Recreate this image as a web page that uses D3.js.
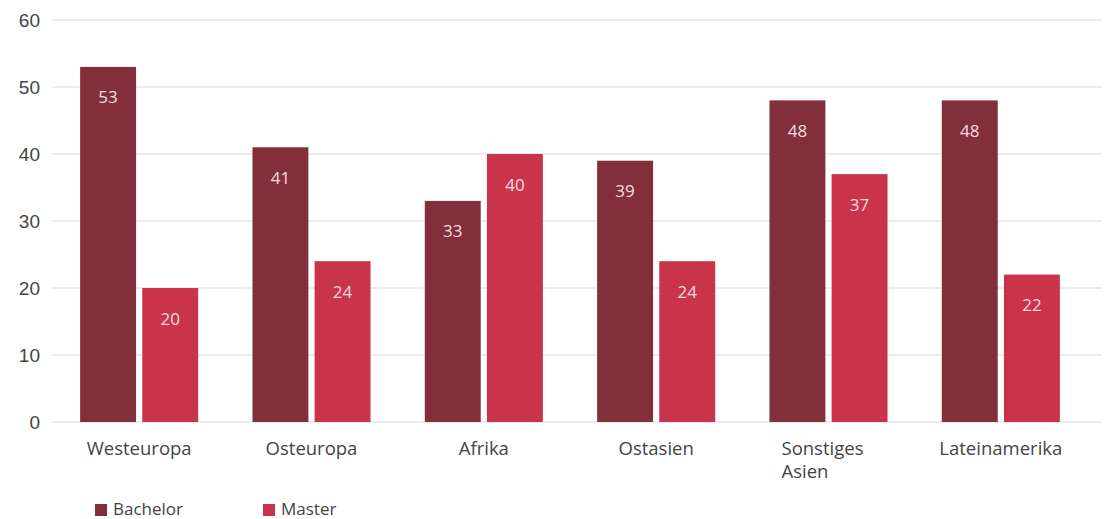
<!DOCTYPE html>
<html>
<head>
<meta charset="utf-8">
<script src="https://cdn.jsdelivr.net/npm/d3@7"></script>
<style>
  html, body { margin: 0; padding: 0; background: #fff; }
  svg { display: block; font-family: "Open Sans", "Noto Sans", sans-serif; }
</style>
</head>
<body>
<svg id="chart" width="1106" height="519"></svg>
<script>
const categories = ["Westeuropa", "Osteuropa", "Afrika", "Ostasien", "Sonstiges Asien", "Lateinamerika"];
const categoryLines = [["Westeuropa"], ["Osteuropa"], ["Afrika"], ["Ostasien"], ["Sonstiges", "Asien"], ["Lateinamerika"]];
const seriesNames = ["Bachelor", "Master"];
const bachelor = [53, 41, 33, 39, 48, 48];
const master = [20, 24, 40, 24, 37, 22];
const yTicks = [0, 10, 20, 30, 40, 50, 60];
const colors = ["#832e3b", "#c9344b"];

const svg = d3.select("#chart");
const x0 = d3.scaleBand().domain(categories).range([53, 1087]).paddingInner(0.315).paddingOuter(0.1575);
const x1 = d3.scaleBand().domain(seriesNames).range([0, x0.bandwidth()]).paddingInner(0.1).paddingOuter(0);
const y = d3.scaleLinear().domain([0, 60]).range([422, 20]);

// y axis labels
const yAxis = d3.axisLeft(y).tickValues(yTicks).tickSize(0).tickPadding(0);
const gy = svg.append("g").attr("transform", "translate(40,0)").call(yAxis);
gy.select(".domain").remove();
gy.selectAll("text").attr("font-size", 19).attr("fill", "#444").attr("x", 0).attr("dy", "0.32em");

// gridlines
svg.append("g").selectAll("line").data(yTicks).join("line")
  .attr("x1", 52).attr("x2", 1102)
  .attr("y1", d => y(d)).attr("y2", d => y(d))
  .attr("stroke", "#e6e6e6").attr("stroke-width", 1.5);

const data = categories.map((c, i) => ({ cat: c, vals: [
  { s: "Bachelor", v: bachelor[i], c: colors[0] },
  { s: "Master", v: master[i], c: colors[1] }
]}));

const groups = svg.append("g").selectAll("g").data(data).join("g")
  .attr("transform", d => `translate(${x0(d.cat)},0)`);

groups.selectAll("rect").data(d => d.vals).join("rect")
  .attr("x", d => x1(d.s))
  .attr("width", x1.bandwidth())
  .attr("y", d => y(d.v))
  .attr("height", d => y(0) - y(d.v))
  .attr("fill", d => d.c);

groups.selectAll("text.val").data(d => d.vals).join("text")
  .attr("class", "val")
  .attr("x", d => x1(d.s) + x1.bandwidth() / 2)
  .attr("y", d => y(d.v) + 32)
  .attr("text-anchor", "middle")
  .attr("dominant-baseline", "middle")
  .attr("font-size", 17)
  .attr("fill", "#f6dde1")
  .text(d => d.v);

// x axis labels (one text element per line)
const xg = svg.append("g");
categories.forEach((d, i) => {
  const lines = categoryLines[i];
  const cx = x0(d) + x0.bandwidth() / 2;
  lines.forEach((ln, k) => {
    const t = xg.append("text")
      .attr("y", 455 + k * 23)
      .attr("font-size", 18.5)
      .attr("fill", "#444")
      .text(ln);
    if (lines.length === 1) {
      t.attr("x", cx).attr("text-anchor", "middle");
    } else {
      t.attr("x", cx - 47).attr("text-anchor", "start");
    }
  });
});

// legend
const legendX = [95, 263];
const lg = svg.append("g").selectAll("g").data(seriesNames).join("g")
  .attr("transform", (d, i) => `translate(${legendX[i]},504)`);
lg.append("rect").attr("width", 12).attr("height", 12).attr("fill", (d, i) => colors[i]);
lg.append("text").attr("x", 18).attr("y", 6.5).attr("dominant-baseline", "middle")
  .attr("font-size", 17).attr("fill", "#444").text(d => d);
</script>
</body>
</html>
